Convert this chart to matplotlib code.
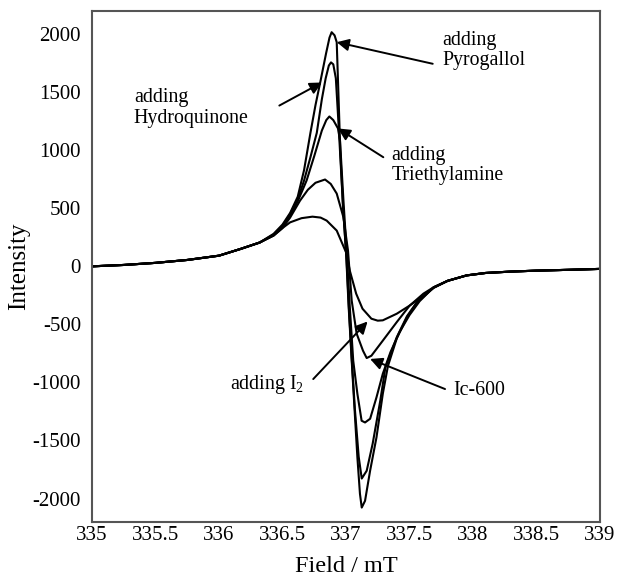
import matplotlib
matplotlib.use("Agg")
import matplotlib.pyplot as plt

plt.rcParams['font.family'] = ['Liberation Serif', 'DejaVu Serif']
plt.rcParams['mathtext.fontset'] = 'custom'
plt.rcParams['mathtext.rm'] = 'Liberation Serif'
plt.rcParams['axes.unicode_minus'] = False

# shared baseline tails (field in mT, intensity)
tail_left_x = [335.0, 335.25, 335.5, 335.75, 336.0, 336.17, 336.32]
tail_left_y = [0, 12, 30, 55, 92, 150, 205]
tail_right_x = [337.8, 337.95, 338.1, 338.3, 338.5, 338.75, 339.0]
tail_right_y = [-125, -78, -57, -45, -37, -30, -22]

# central part of each spectrum
pyro_x = [336.43, 336.5, 336.56, 336.62, 336.67, 336.72, 336.76, 336.8, 336.843,
          336.87, 336.887, 336.91, 336.927, 336.94, 336.955, 336.975, 337.0,
          337.02, 337.045, 337.07, 337.09, 337.11, 337.124, 337.15, 337.19,
          337.24, 337.29, 337.33, 337.4, 337.48, 337.56, 337.69]
pyro_y = [280, 360, 460, 600, 830, 1150, 1390, 1600, 1834,
          1970, 2017, 1990, 1931, 1500, 1000, 550, 130,
          -330, -813, -1280, -1650, -1960, -2078, -2020, -1760,
          -1474, -1097, -860, -620, -440, -310, -185]

hydro_x = [336.43, 336.5, 336.56, 336.62, 336.67, 336.72, 336.77, 336.81, 336.84,
           336.865, 336.882, 336.9, 336.92, 336.94, 336.96, 336.98, 337.005,
           337.025, 337.045, 337.07, 337.1, 337.124, 337.163, 337.21, 337.27,
           337.31, 337.4, 337.48, 337.56, 337.69]
hydro_y = [275, 350, 450, 575, 740, 940, 1150, 1440, 1620,
           1730, 1757, 1740, 1620, 1250, 850, 450, 50,
           -400, -790, -1230, -1640, -1828, -1761, -1528, -1157,
           -873, -610, -430, -305, -182]

tri_x = [336.43, 336.5, 336.56, 336.62, 336.69, 336.75, 336.81, 336.845, 336.869,
         336.9, 336.937, 336.953, 336.98, 337.005, 337.03, 337.057, 337.09,
         337.123, 337.15, 337.19, 337.24, 337.29, 337.35, 337.42, 337.5,
         337.58, 337.69]
tri_y = [270, 340, 440, 560, 740, 950, 1170, 1260, 1291,
         1260, 1188, 1083, 566, 135, -350, -813, -1100,
         -1330, -1345, -1313, -1129, -925, -740, -570, -420,
         -300, -180]

ic_x = [336.43, 336.5, 336.56, 336.638, 336.7, 336.76, 336.835, 336.88, 336.927,
        336.98, 337.005, 337.016, 337.045, 337.084, 337.134, 337.163, 337.2,
        337.29, 337.4, 337.5, 337.61, 337.69]
ic_y = [265, 330, 420, 566, 660, 720, 748, 710, 627,
        422, 221, 135, -296, -580, -727, -790, -770,
        -640, -480, -340, -235, -180]

i2_x = [336.43, 336.5, 336.56, 336.65, 336.736, 336.8, 336.848, 336.927, 337.005,
        337.03, 337.08, 337.13, 337.2, 337.25, 337.29, 337.4, 337.5, 337.6, 337.69]
i2_y = [265, 330, 379, 415, 428, 420, 394, 308, 109,
        -37, -235, -365, -451, -468, -465, -408, -339, -260, -185]

curves = [(pyro_x, pyro_y), (hydro_x, hydro_y), (tri_x, tri_y),
          (ic_x, ic_y), (i2_x, i2_y)]

fig = plt.figure(figsize=(6.2, 5.77), dpi=100)
ax = fig.add_axes([0.1484, 0.0958, 0.8193, 0.8852])

for cx, cy in curves:
    ax.plot(tail_left_x + cx + tail_right_x, tail_left_y + cy + tail_right_y,
            color='black', lw=1.5)

ax.set_xlim(335, 339)
ax.set_ylim(-2200, 2200)
ax.set_xticks([335, 335.5, 336, 336.5, 337, 337.5, 338, 338.5, 339])
ax.set_xticklabels(['335', '335.5', '336', '336.5', '337', '337.5', '338', '338.5', '339'])
ax.set_yticks([-2000, -1500, -1000, -500, 0, 500, 1000, 1500, 2000])
ax.tick_params(length=0, labelsize=15)
ax.tick_params(axis='x', pad=3)
ax.tick_params(axis='y', pad=8)
for sp in ax.spines.values():
    sp.set_color('#555555')
    sp.set_linewidth(1.5)

ax.set_xlabel('Field / mT', fontsize=17.5, labelpad=8)
ax.set_ylabel('Intensity', fontsize=18, labelpad=2)

arrow = dict(arrowstyle='-|>', color='black', lw=1.4, mutation_scale=18,
             shrinkA=0, shrinkB=0)
fs = 14.3
ax.annotate('', xy=(336.927, 1931), xytext=(337.683, 1745), arrowprops=arrow)
ax.text(337.76, 1860, 'adding\nPyrogallol', fontsize=fs, va='center', ha='left',
        linespacing=1.1)

ax.annotate('', xy=(336.811, 1584), xytext=(336.475, 1385), arrowprops=arrow)
ax.text(335.33, 1364, 'adding\nHydroquinone', fontsize=fs, va='center', ha='left',
        linespacing=1.1)

ax.annotate('', xy=(336.937, 1188), xytext=(337.294, 940), arrowprops=arrow)
ax.text(337.36, 868, 'adding\nTriethylamine', fontsize=fs, va='center', ha='left',
        linespacing=1.1)

ax.annotate('', xy=(337.17, -475), xytext=(336.742, -971), arrowprops=arrow)
ax.text(336.375, -1014, 'adding I$_\\mathregular{2}$', fontsize=fs, va='center',
        ha='center')

ax.annotate('', xy=(337.19, -798), xytext=(337.78, -1057), arrowprops=arrow)
ax.text(337.843, -1073, 'Ic-600', fontsize=fs, va='center', ha='left')

fig.savefig('out.png', dpi=100)
